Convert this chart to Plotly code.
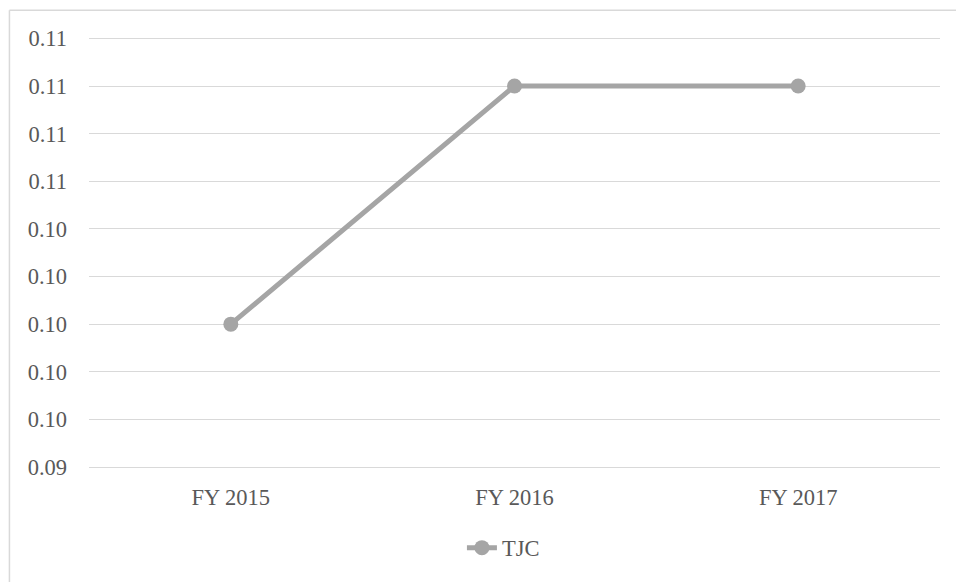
import plotly.graph_objects as go

# Data
years = ["FY 2015", "FY 2016", "FY 2017"]
tjc = [0.100, 0.110, 0.110]

# Value axis settings
y_min, y_max, y_step = 0.094, 0.112, 0.002

FONT = "Liberation Serif, Times New Roman, serif"
FSIZE = 22.5
GRID = "#d9d9d9"
TEXT = "#595959"
LINE = "#a5a5a5"

fig = go.Figure()
fig.add_trace(go.Scatter(
    x=years, y=tjc, name="TJC", mode="lines+markers",
    line=dict(color=LINE, width=5),
    marker=dict(color=LINE, size=15),
))

fig.update_layout(
    width=956, height=582,
    margin=dict(l=89, r=16, t=36, b=113),
    paper_bgcolor="white", plot_bgcolor="white",
    font=dict(family=FONT, size=FSIZE, color=TEXT),
    showlegend=True,
    legend=dict(orientation="h", x=0.487, xanchor="center", y=-0.188, yanchor="middle",
                font=dict(family=FONT, size=FSIZE, color=TEXT)),
    xaxis=dict(range=[-0.5, 2.5], showgrid=False, zeroline=False, showline=True,
               linecolor=GRID, linewidth=1, ticks="", ticklabelstandoff=10),
    yaxis=dict(range=[y_min, y_max + 0.0001], tick0=y_min, dtick=y_step, tickformat=".2f",
               showgrid=True, gridcolor=GRID, gridwidth=1, zeroline=False, showline=False,
               ticks="", ticklabelstandoff=21),
    shapes=[
        # chart frame (left and top edges)
        dict(type="line", xref="paper", yref="paper", x0=-0.0935, x1=1.1, y0=1.06, y1=1.06,
             line=dict(color=GRID, width=1.5)),
        dict(type="line", xref="paper", yref="paper", x0=-0.0935, x1=-0.0935, y0=1.06, y1=-0.4,
             line=dict(color=GRID, width=1.5)),
    ],
)

fig.write_html("out.html")
